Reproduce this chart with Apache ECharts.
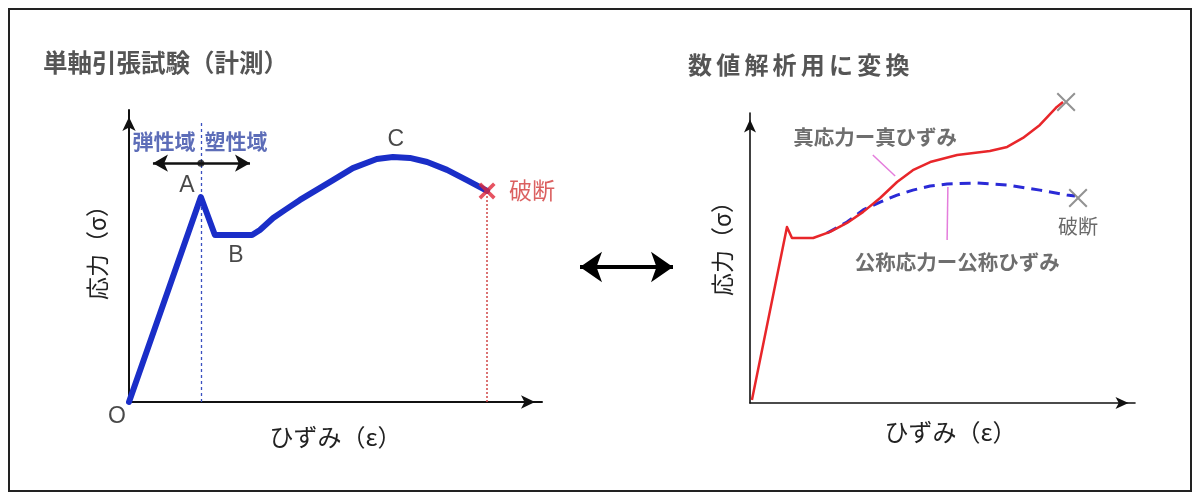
<!DOCTYPE html>
<html><head><meta charset="utf-8">
<script src="https://cdn.jsdelivr.net/npm/echarts@6/dist/echarts.min.js"></script>
<style>html,body{margin:0;padding:0;background:#fff}#c{width:1200px;height:498px}</style>
</head><body><div id="c"></div>
<script>
// ---- Left: measured uniaxial tensile test ----
const measStrain = [0, 17.4, 20.8, 29.8, 31.7, 34.9, 37.8, 41.4, 49.4, 54.2, 60.0, 63.9, 68.0, 72.2, 77.0, 81.8, 86.7];
const measStress = [0, 70.2, 57.2, 57.2, 58.9, 63.0, 65.8, 69.2, 76.0, 80.1, 83.2, 83.9, 83.6, 82.2, 79.5, 76.0, 72.3];
const yieldStrain = 17.4;
const yieldLineTop = 95.9;
const regionArrow = [[5.8, 81.8], [29.3, 81.8]];
const regionDot = [17.4, 81.8];
const measBreak = [86.7, 72.3];
const regionLabels = [['弾性域', 8.5, 89.4], ['塑性域', 25.9, 89.4]];
const pointLabels = [['A', 14.0, 74.0], ['B', 25.9, 50.0], ['C', 64.6, 89.7], ['O', -2.9, -5.1]];
const measBreakLabel = [['破断', 97.6, 72.6]];

// ---- Right: converted for numerical analysis ----
const trueStrain = [0.5, 9.6, 10.9, 16.4, 20.8, 25.2, 29.4, 33.8, 38.2, 42.3, 46.8, 53.8, 62.3, 66.8, 70.9, 75.3, 79.7, 81.3];
const trueStress = [1.0, 60.7, 56.9, 56.9, 59.0, 62.1, 65.9, 70.7, 76.2, 80.3, 83.1, 85.5, 86.9, 88.3, 91.4, 95.9, 102.1, 103.8];
const nomStrain = [20.0, 25.2, 29.4, 33.8, 38.2, 42.3, 46.8, 51.2, 59.0, 66.8, 75.3, 82.3, 84.4];
const nomStress = [58.6, 62.4, 66.6, 69.3, 71.7, 73.4, 74.8, 75.5, 75.9, 75.2, 73.4, 71.7, 71.4];
const trueBreak = [82.1, 103.8];
const nomBreak = [85.2, 70.7];
const leaderTrue = [[31.9, 85.5], [37.7, 78.3]];
const leaderNom = [[51.4, 74.5], [51.2, 56.2]];
const curveLabels = [['真応力ー真ひずみ', 32.5, 91.7], ['公称応力ー公称ひずみ', 53.8, 48.6]];
const nomBreakLabel = [['破断', 85.2, 61.0]];

const leftTitle = '単軸引張試験（計測）';
const rightTitle = '数値解析用に変換';
const axisNameX = 'ひずみ（ε）';
const axisNameY = '応力（σ）';

const JP = '"Noto Sans CJK JP", "Noto Sans", sans-serif';
const LAT = '"Liberation Sans", Arial, sans-serif';

const zip = (a, b) => a.map((v, i) => [v, b[i]]);
const X_THICK = 'path://M0,3L3,0L10,7L17,0L20,3L13,10L20,17L17,20L10,13L3,20L0,17L7,10Z';
const X_THIN = 'path://M0,1.5L1.5,0L10,8.5L18.5,0L20,1.5L11.5,10L20,18.5L18.5,20L10,11.5L1.5,20L0,18.5L8.5,10Z';

function axisX(grid, name, gap, pad, w, arrow) {
  return {
    gridIndex: grid, type: 'value', min: 0, max: 100,
    axisLine: { show: true, onZero: false, lineStyle: { color: '#111', width: w },
      symbol: ['none', 'arrow'], symbolSize: arrow, symbolOffset: [0, -arrow[1] / 2] },
    axisTick: { show: false }, axisLabel: { show: false }, splitLine: { show: false },
    name: name, nameLocation: 'middle', nameGap: gap,
    nameTextStyle: { fontFamily: JP, fontSize: 24, color: '#222', padding: pad }
  };
}
function axisY(grid, name, gap, pad, w, arrow) {
  return {
    gridIndex: grid, type: 'value', min: 0, max: 100,
    axisLine: { show: true, onZero: false, lineStyle: { color: '#111', width: w },
      symbol: ['none', 'arrow'], symbolSize: arrow, symbolOffset: [0, -arrow[1] / 2] },
    axisTick: { show: false }, axisLabel: { show: false }, splitLine: { show: false },
    name: name, nameLocation: 'middle', nameGap: gap, nameRotate: 90,
    nameTextStyle: { fontFamily: JP, fontSize: 23, color: '#222', padding: pad }
  };
}
function hidden(grid) {
  return { gridIndex: grid, type: 'value', min: 0, max: 100, show: false };
}
function labelSeries(xi, yi, items, style) {
  return {
    type: 'scatter', xAxisIndex: xi, yAxisIndex: yi, clip: false, silent: true,
    symbolSize: 1, itemStyle: { color: 'rgba(0,0,0,0)' }, z: 10,
    data: items.map(d => ({ name: d[0], value: [d[1], d[2]] })),
    label: Object.assign({ show: true, position: 'inside', formatter: '{b}' }, style)
  };
}
function markLineSeries(xi, yi, pairs, lineStyle, symbol, symbolSize) {
  return {
    type: 'line', xAxisIndex: xi, yAxisIndex: yi, data: [], silent: true,
    markLine: {
      silent: true, animation: false, symbol: symbol, symbolSize: symbolSize,
      label: { show: false }, lineStyle: lineStyle,
      emphasis: { disabled: true },
      data: pairs.map(p => [{ coord: p[0] }, { coord: p[1] }])
    }
  };
}

const titleChars = rightTitle.split('').map((ch, i) => ({
  type: 'text', x: 688 + 28.2 * i + 12, y: 65,
  style: { text: ch, font: 'bold 24px ' + JP, fill: '#555',
    align: 'center', verticalAlign: 'middle', textAlign: 'center', textVerticalAlign: 'middle' }
}));

const option = {
  backgroundColor: '#fff',
  animation: false,
  grid: [
    { left: 129, top: 110, width: 413, height: 292 },
    { left: 750, top: 113, width: 385, height: 290 },
    { left: 580, top: 257, width: 93, height: 20 }
  ],
  xAxis: [
    axisX(0, axisNameX, 23, [0, 0, 0, 0], 2, [10, 14]),
    axisX(1, axisNameX, 17, [0, 0, 0, 16], 1.6, [9, 13]),
    hidden(2)
  ],
  yAxis: [
    axisY(0, axisNameY, 20, [0, 0, 0, 18], 2, [10, 14]),
    axisY(1, axisNameY, 16, [0, 0, 0, 30], 1.6, [9, 13]),
    hidden(2)
  ],
  graphic: [
    { type: 'rect', shape: { x: 9, y: 9, width: 1182, height: 482 },
      style: { fill: 'none', stroke: '#222', lineWidth: 2 }, z: 100 },
    { type: 'text', x: 43, y: 63,
      style: { text: leftTitle, font: 'bold 24.5px ' + JP, fill: '#555',
        align: 'left', verticalAlign: 'middle', textAlign: 'left', textVerticalAlign: 'middle' } }
  ].concat(titleChars),
  series: [
    // left guide lines
    markLineSeries(0, 0, [[[yieldStrain, 0], [yieldStrain, yieldLineTop]]],
      { color: '#3a50c0', width: 1.3, type: [3, 3] }, ['none', 'none'], 0),
    markLineSeries(0, 0, [[[measBreak[0], 0], measBreak]],
      { color: '#d04545', width: 1.5, type: [2, 2] }, ['none', 'none'], 0),
    markLineSeries(0, 0, [regionArrow],
      { color: '#111', width: 2.5, type: 'solid' }, ['arrow', 'arrow'], [13, 15]),
    // left measured curve
    {
      type: 'line', xAxisIndex: 0, yAxisIndex: 0, data: zip(measStrain, measStress),
      showSymbol: false, symbol: 'none', clip: false, z: 5,
      lineStyle: { color: '#1a2ec8', width: 6, cap: 'round', join: 'round' }
    },
    { type: 'scatter', xAxisIndex: 0, yAxisIndex: 0, data: [regionDot], symbolSize: 7,
      itemStyle: { color: '#111' }, z: 6 },
    { type: 'scatter', xAxisIndex: 0, yAxisIndex: 0, data: [measBreak], clip: false,
      symbol: X_THICK, symbolSize: 17, itemStyle: { color: '#e0283a' }, z: 7 },
    labelSeries(0, 0, regionLabels, { fontFamily: JP, fontSize: 21, fontWeight: 'bold', color: '#3549a6' }),
    labelSeries(0, 0, pointLabels, { fontFamily: LAT, fontSize: 23, color: '#1a1a1a' }),
    labelSeries(0, 0, measBreakLabel, { fontFamily: JP, fontSize: 23, color: '#d23a3a' }),

    // right curves
    markLineSeries(1, 1, [leaderTrue, leaderNom],
      { color: '#e47ddc', width: 1.5, type: 'solid' }, ['none', 'none'], 0),
    {
      type: 'line', xAxisIndex: 1, yAxisIndex: 1, data: zip(nomStrain, nomStress),
      showSymbol: false, symbol: 'none', clip: false, z: 4,
      lineStyle: { color: '#2a2ad6', width: 3, type: [11, 7] }
    },
    {
      type: 'line', xAxisIndex: 1, yAxisIndex: 1, data: zip(trueStrain, trueStress),
      showSymbol: false, symbol: 'none', clip: false, z: 5,
      lineStyle: { color: '#e8262a', width: 2.5, join: 'round' }
    },
    { type: 'scatter', xAxisIndex: 1, yAxisIndex: 1, data: [trueBreak, nomBreak], clip: false,
      symbol: X_THIN, symbolSize: 19, itemStyle: { color: '#777' }, z: 7 },
    labelSeries(1, 1, curveLabels, { fontFamily: JP, fontSize: 20.5, fontWeight: 'bold', color: '#4a4a4a' }),
    labelSeries(1, 1, nomBreakLabel, { fontFamily: JP, fontSize: 20, color: '#444' }),

    // middle conversion arrow
    markLineSeries(2, 2, [[[0, 50], [100, 50]]],
      { color: '#000', width: 4, type: 'solid' }, ['arrow', 'arrow'], [23, 22])
  ]
};

const chart = echarts.init(document.getElementById('c'), null, { renderer: 'canvas' });
chart.setOption(option);
</script>
</body></html>
